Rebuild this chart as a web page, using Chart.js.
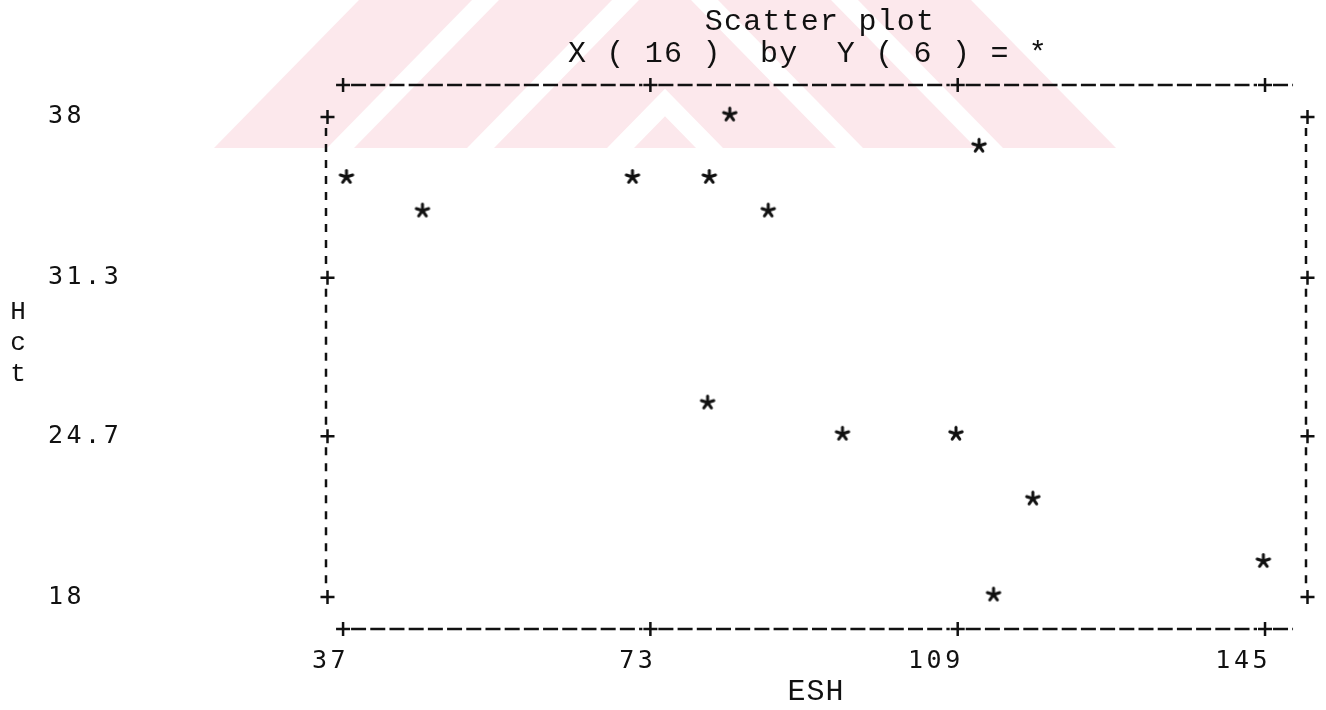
<!DOCTYPE html>
<html>
<head>
<meta charset="utf-8">
<script src="https://cdn.jsdelivr.net/npm/chart.js@4.4.1/dist/chart.umd.min.js"></script>
<style>
  html, body { margin: 0; padding: 0; background: #fff; }
  canvas { display: block; }
</style>
</head>
<body>
<canvas id="myChart" width="1326" height="710"></canvas>
<script>
// Data
var esh = [37.4, 46.3, 70.9, 79.9, 82.3, 86.8, 111.5, 79.7, 95.5, 108.8, 117.8, 113.2, 144.8];
var hct = [35.5, 34.1, 35.5, 35.5, 38.1, 34.1, 36.8, 26.1, 24.8, 24.8, 22.1, 18.1, 19.5];

var xTicks = [37, 73, 109, 145];
var xTickLabels = ['37', '73', '109', '145'];
var yTicks = [38, 31.3, 24.7, 18];
var yTickLabels = ['38', '31.3', '24.7', '18'];

var titleLines = ['Scatter plot', 'X ( 16 )  by  Y ( 6 ) = *'];
var xTitle = 'ESH';
var yTitle = ['H', 'c', 't'];

var mono = '"Liberation Mono", "DejaVu Sans Mono", monospace';
var gothic = '"DejaVu Sans Mono", monospace';
var ink = '#111';

// asterisk marker like the printer '*'
function makeStar() {
  var c = document.createElement('canvas');
  c.width = 18; c.height = 18;
  var g = c.getContext('2d');
  g.strokeStyle = ink;
  g.lineWidth = 3;
  g.lineCap = 'round';
  for (var i = 0; i < 5; i++) {
    var a = -Math.PI / 2 + i * 2 * Math.PI / 5;
    g.beginPath();
    g.moveTo(9, 9);
    g.lineTo(9 + Math.cos(a) * 6.5, 9 + Math.sin(a) * 6.5);
    g.stroke();
  }
  return c;
}

function plus(ctx, x, y) {
  ctx.beginPath();
  ctx.moveTo(x - 7, y); ctx.lineTo(x + 7, y);
  ctx.moveTo(x, y - 7); ctx.lineTo(x, y + 7);
  ctx.stroke();
}

// faint pink watermark on the scan + white paper
var paper = {
  id: 'paper',
  beforeDraw: function (chart) {
    var ctx = chart.ctx;
    ctx.save();
    ctx.fillStyle = '#fff';
    ctx.fillRect(0, 0, chart.width, chart.height);
    ctx.beginPath();
    ctx.rect(0, 0, chart.width, 148);
    ctx.clip();
    ctx.fillStyle = '#fce8ec';
    var mid = 665;
    for (var side = 0; side < 2; side++) {
      ctx.save();
      ctx.beginPath();
      if (side === 0) ctx.rect(0, 0, mid, 148); else ctx.rect(mid, 0, 1326 - mid, 148);
      ctx.clip();
      for (var k = 0; k < 4; k++) {
        var xb = 214 + 140 * k;
        var pts = [[xb, 148], [xb + 113, 148], [xb + 258, 0], [xb + 145, 0]];
        ctx.beginPath();
        pts.forEach(function (p, i) {
          var px = side === 0 ? p[0] : 2 * mid - p[0];
          if (i === 0) ctx.moveTo(px, p[1]); else ctx.lineTo(px, p[1]);
        });
        ctx.closePath();
        ctx.fill();
      }
      ctx.restore();
    }
    ctx.restore();
    // axis title (drawn with the grid layer) gets a little spacing
    ctx.letterSpacing = '1px';
  },
  afterDatasetsDraw: function (chart) {
    // tick labels are on z 1, drawn after this: wide printer spacing
    chart.ctx.letterSpacing = '3.5px';
  }
};

// the dashed printer frame, titles
var frame = {
  id: 'frame',
  afterDraw: function (chart) {
    var ctx = chart.ctx, a = chart.chartArea;
    var xs = chart.scales.x, ys = chart.scales.y;
    ctx.save();
    ctx.letterSpacing = '0px';
    ctx.strokeStyle = ink;
    ctx.lineWidth = 2.5;

    var xp = xTicks.map(function (v) { return xs.getPixelForValue(v); });
    [a.top, a.bottom].forEach(function (py) {
      ctx.setLineDash([15, 4.2]);
      for (var i = 0; i < xp.length; i++) {
        var end = i < xp.length - 1 ? xp[i + 1] - 8 : xp[i] + 28;
        ctx.beginPath(); ctx.moveTo(xp[i] + 8, py); ctx.lineTo(end, py); ctx.stroke();
      }
      ctx.setLineDash([]);
      xp.forEach(function (px) { plus(ctx, px, py); });
    });

    var yp = yTicks.map(function (v) { return ys.getPixelForValue(v); });
    [a.left, a.right].forEach(function (px) {
      ctx.setLineDash([8, 8]);
      for (var i = 0; i < yp.length - 1; i++) {
        ctx.beginPath(); ctx.moveTo(px, yp[i] + 11); ctx.lineTo(px, yp[i + 1] - 9); ctx.stroke();
      }
      ctx.setLineDash([]);
      yp.forEach(function (py) { plus(ctx, px + 1.5, py); });
    });

    ctx.fillStyle = ink;
    ctx.textAlign = 'center';
    ctx.textBaseline = 'middle';
    ctx.font = '30px ' + mono;
    ctx.letterSpacing = '1.2px';
    var cx = (a.left + a.right) / 2;
    ctx.fillText(titleLines[0], cx + 4, 22);
    ctx.fillText(titleLines[1], cx - 8, 54);

    ctx.font = '26px ' + mono;
    ctx.letterSpacing = '0px';
    yTitle.forEach(function (t, i) { ctx.fillText(t, 18, 312 + i * 31); });
    ctx.restore();
    ctx.letterSpacing = '0px';
  }
};

var ctx = document.getElementById('myChart');
var myChart = new Chart(ctx, {
  type: 'scatter',
  data: {
    datasets: [{
      label: 'Hct by ESH',
      data: esh.map(function (v, i) { return { x: v, y: hct[i] }; }),
      pointStyle: makeStar(),
      pointRadius: 9,
      pointHoverRadius: 9
    }]
  },
  options: {
    responsive: false,
    animation: false,
    devicePixelRatio: 1,
    layout: { padding: { left: 48, right: 20, top: 85, bottom: 0 } },
    plugins: { legend: { display: false }, tooltip: { enabled: false }, title: { display: false } },
    scales: {
      x: {
        type: 'linear',
        min: 35.0,
        max: 149.8,
        grid: { display: false, drawTicks: false },
        border: { display: false },
        afterBuildTicks: function (s) { s.ticks = xTicks.map(function (v) { return { value: v }; }); },
        afterFit: function (s) { s.height = 81; },
        ticks: {
          z: 1,
          autoSkip: false,
          maxRotation: 0,
          padding: 17,
          align: 'end',
          labelOffset: 6,
          color: ink,
          font: { family: gothic, size: 25 },
          callback: function (v, i) { return xTickLabels[i]; }
        },
        title: { display: true, text: xTitle, color: ink, padding: 0, font: { family: mono, size: 30 } }
      },
      y: {
        type: 'linear',
        min: 16.667,
        max: 39.333,
        grid: { display: false, drawTicks: false },
        border: { display: false },
        afterBuildTicks: function (s) { s.ticks = yTicks.map(function (v) { return { value: v }; }); },
        afterFit: function (s) { s.width = 278; },
        ticks: {
          z: 1,
          autoSkip: false,
          crossAlign: 'far',
          color: ink,
          font: { family: gothic, size: 25 },
          callback: function (v, i) { return yTickLabels[i]; }
        }
      }
    }
  },
  plugins: [paper, frame]
});
</script>
</body>
</html>
